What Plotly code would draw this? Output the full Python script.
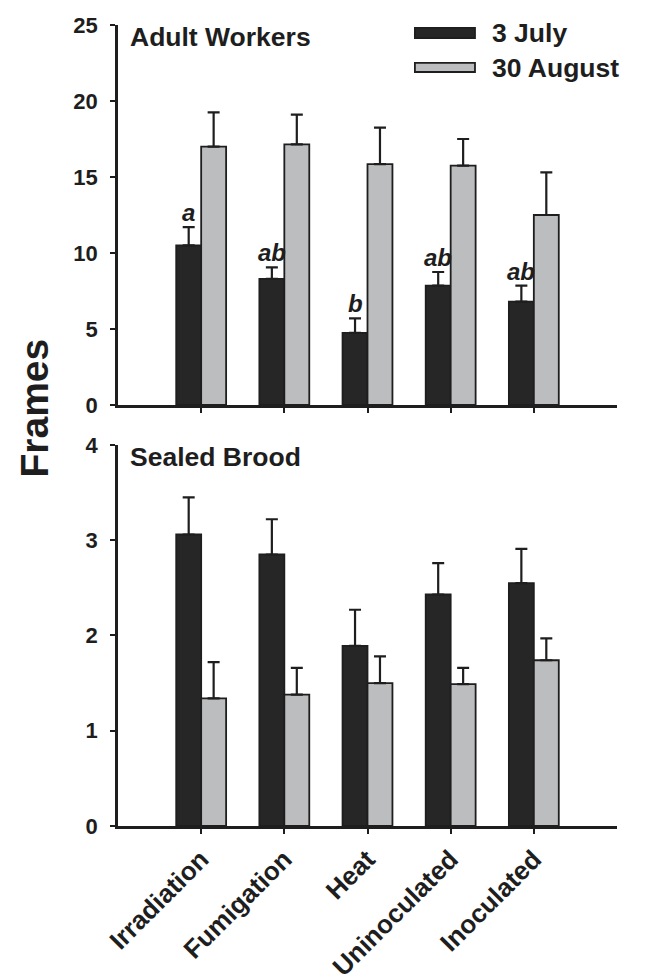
import plotly.graph_objects as go

categories = ["Irradiation", "Fumigation", "Heat", "Uninoculated", "Inoculated"]
series_names = ["3 July", "30 August"]

# Adult Workers (frames)
aw_july = [10.5, 8.3, 4.75, 7.85, 6.8]
aw_july_se = [1.2, 0.75, 0.95, 0.9, 1.05]
aw_aug = [17.0, 17.15, 15.85, 15.75, 12.5]
aw_aug_se = [2.25, 1.95, 2.4, 1.75, 2.8]
aw_letters = ["a", "ab", "b", "ab", "ab"]

# Sealed Brood (frames)
sb_july = [3.06, 2.85, 1.89, 2.43, 2.55]
sb_july_se = [0.39, 0.37, 0.38, 0.33, 0.36]
sb_aug = [1.34, 1.38, 1.50, 1.49, 1.74]
sb_aug_se = [0.38, 0.28, 0.28, 0.17, 0.23]

colors = ["#262626", "#bcbdbf"]
ink = "#1e1e1e"
FONT = "Liberation Sans, Arial, sans-serif"

fig = go.Figure()

def add_bars(vals, errs, name, color, xa, ya):
    fig.add_trace(go.Bar(
        x=categories, y=vals, name=name, xaxis=xa, yaxis=ya,
        marker=dict(color=color, line=dict(color=ink, width=1.8)),
        error_y=dict(type="data", array=errs, arrayminus=[0] * len(errs),
                     symmetric=False, color=ink, thickness=2.2, width=6),
        showlegend=False,
    ))

add_bars(aw_july, aw_july_se, series_names[0], colors[0], "x", "y")
add_bars(aw_aug, aw_aug_se, series_names[1], colors[1], "x", "y")
add_bars(sb_july, sb_july_se, series_names[0], colors[0], "x2", "y2")
add_bars(sb_aug, sb_aug_se, series_names[1], colors[1], "x2", "y2")

tickfont = dict(family=FONT, size=22, color=ink, weight="bold")
xcommon = dict(type="category", range=[-1, 5], showline=True, linecolor=ink,
               linewidth=2.5, ticks="outside", ticklen=5, tickwidth=2,
               tickcolor=ink, showgrid=False, zeroline=False, automargin=False)
ycommon = dict(showline=True, linecolor=ink, linewidth=2.5, ticks="outside",
               ticklen=5, tickwidth=2, tickcolor=ink, showgrid=False,
               zeroline=False, tickfont=tickfont, ticklabelstandoff=8, automargin=False)

fig.update_layout(
    width=654, height=980,
    margin=dict(l=110, r=45, t=17, b=162),
    paper_bgcolor="white", plot_bgcolor="white",
    barmode="group", bargap=0.4, bargroupgap=0,
    font=dict(family=FONT, color=ink),
    xaxis=dict(**xcommon, anchor="y", showticklabels=False),
    yaxis=dict(**ycommon, domain=[0.5256, 1.0], range=[0, 25], dtick=5, anchor="x"),
    xaxis2=dict(**xcommon, anchor="y2", tickangle=-45,
                tickfont=dict(family=FONT, size=26, color=ink, weight="bold")),
    yaxis2=dict(**ycommon, domain=[0.0, 0.4757], range=[0, 4], dtick=1, anchor="x2"),
)

annotations = []
# significance letters above July bars (black bar center = category index - 0.15)
for i, (lab, v, e) in enumerate(zip(aw_letters, aw_july, aw_july_se)):
    annotations.append(dict(x=i - 0.15, y=v + e, xref="x", yref="y", text=f"<b><i>{lab}</i></b>",
                            showarrow=False, yanchor="bottom", yshift=-1,
                            font=dict(family=FONT, size=24, color=ink)))
# panel labels
annotations.append(dict(x=0.02, y=0.985, xref="paper", yref="paper", text="<b>Adult Workers</b>",
                        showarrow=False, xanchor="left", yanchor="middle",
                        font=dict(family=FONT, size=26.5, color=ink)))
annotations.append(dict(x=0.02, y=0.461, xref="paper", yref="paper", text="<b>Sealed Brood</b>",
                        showarrow=False, xanchor="left", yanchor="middle",
                        font=dict(family=FONT, size=26.5, color=ink)))
# y-axis title
annotations.append(dict(x=-0.167, y=0.522, xref="paper", yref="paper", text="<b>Frames</b>",
                        textangle=-90, showarrow=False, xanchor="center", yanchor="middle",
                        font=dict(family=FONT, size=39, color=ink)))
# custom legend
leg_rows = [(0.9838, 0.9963, 0.990), (0.9413, 0.9526, 0.9463)]
shapes = []
for (y0, y1, ty), name, col in zip(leg_rows, series_names, colors):
    shapes.append(dict(type="rect", xref="paper", yref="paper", x0=0.595, x1=0.7154,
                       y0=y0, y1=y1, fillcolor=col, line=dict(color=ink, width=1.8)))
    annotations.append(dict(x=0.7455, y=ty, xref="paper", yref="paper", text=f"<b>{name}</b>",
                            showarrow=False, xanchor="left", yanchor="middle",
                            font=dict(family=FONT, size=26.5, color=ink)))

fig.update_layout(annotations=annotations, shapes=shapes)
fig.write_html("out.html")
